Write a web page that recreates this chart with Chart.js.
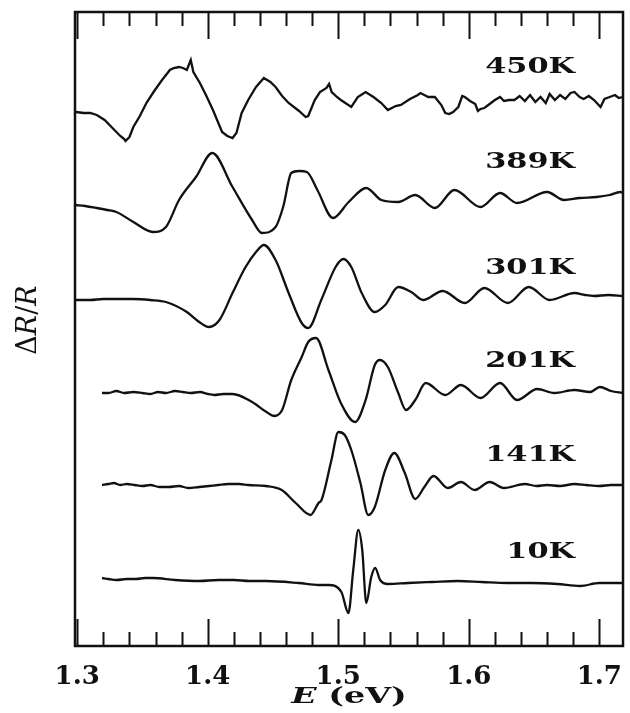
<!DOCTYPE html>
<html>
<head>
<meta charset="utf-8">
<script src="https://cdn.jsdelivr.net/npm/chart.js@4.4.0/dist/chart.umd.min.js"></script>
<style>
html,body{margin:0;padding:0;background:#fff}
</style>
</head>
<body>
<canvas id="spectra" width="630" height="713"></canvas>
<script>
// spectra, top to bottom
const temps = ["450K", "389K", "301K", "201K", "141K", "10K"];
// where the temperature labels sit (y in arbitrary units), right edge at labelE
const labelY = [579, 484, 378, 285, 191, 94];
const labelE = 1.6814;

// energy axis (eV)
const eMin = 1.2983, eMax = 1.7182;
const majorTicks = [1.3, 1.4, 1.5, 1.6, 1.7];
const minorTicks = [1.32, 1.34, 1.36, 1.38, 1.42, 1.44, 1.46, 1.48,
                    1.52, 1.54, 1.56, 1.58, 1.62, 1.64, 1.66, 1.68];

// [E (eV), dR/R + offset (arb. units)]
const k450 = [[1.299,534],[1.305,533],[1.310,533],[1.315,531],[1.321,526],[1.327,518],[1.333,510],[1.336,507],
  [1.337,505],[1.340,509],[1.343,519],[1.348,530],[1.353,543],[1.359,555],[1.365,566],[1.368,571],[1.371,576],
  [1.374,578],[1.378,579],[1.381,578],[1.384,576],[1.387,586],[1.389,574],[1.394,563],[1.399,550],[1.404,536],
  [1.411,514],[1.415,510],[1.419,508],[1.422,513],[1.426,533],[1.431,546],[1.437,559],[1.443,568],[1.448,564],
  [1.452,559],[1.457,550],[1.462,543],[1.470,535],[1.475,529],[1.477,530],[1.482,546],[1.486,554],[1.491,558],
  [1.493,562],[1.495,554],[1.499,549],[1.502,546],[1.510,539],[1.515,549],[1.521,554],[1.527,549],[1.533,543],
  [1.538,536],[1.544,540],[1.548,541],[1.555,547],[1.561,551],[1.563,553],[1.569,549],[1.574,549],[1.579,541],
  [1.582,533],[1.585,532],[1.588,534],[1.592,539],[1.595,550],[1.597,549],[1.601,545],[1.605,542],[1.607,535],
  [1.609,537],[1.612,538],[1.617,543],[1.620,546],[1.624,549],[1.627,545],[1.631,546],[1.635,546],[1.639,550],
  [1.643,545],[1.647,551],[1.651,544],[1.655,549],[1.659,543],[1.662,552],[1.666,546],[1.670,551],[1.674,547],
  [1.678,553],[1.681,554],[1.685,549],[1.688,547],[1.692,550],[1.696,546],[1.701,539],[1.704,547],[1.708,549],
  [1.712,551],[1.715,548],[1.718,549]];

const k389 = [[1.299,441],[1.306,440],[1.315,438],[1.323,436],[1.330,434],[1.343,424],[1.358,414],[1.368,419],
  [1.378,446],[1.391,469],[1.4035,493],[1.419,459],[1.434,426],[1.4415,413],[1.452,419],[1.458,440],[1.464,473],
  [1.470,475],[1.476,474],[1.484,456],[1.496,428],[1.508,444],[1.5215,458],[1.533,446],[1.546,444],[1.559,451],
  [1.574,438],[1.589,456],[1.609,439],[1.624,453],[1.637,443],[1.660,454],[1.673,446],[1.685,448],[1.698,449],
  [1.708,451],[1.716,454],[1.718,453]];

const k301 = [[1.299,346],[1.310,346],[1.320,347],[1.332,347],[1.343,347],[1.356,346],[1.368,344],[1.384,334],
  [1.3935,324],[1.401,319],[1.409,326],[1.419,353],[1.429,379],[1.437,394],[1.443,401],[1.452,386],[1.462,353],
  [1.472,323],[1.477,318],[1.487,346],[1.498,379],[1.504,387],[1.510,379],[1.518,353],[1.528,334],[1.536,341],
  [1.546,359],[1.556,354],[1.565,346],[1.580,355],[1.597,343],[1.612,358],[1.630,343],[1.646,359],[1.662,346],
  [1.681,353],[1.689,351],[1.696,350],[1.707,351],[1.718,350]];

const k201 = [[1.319,253],[1.324,253],[1.330,255],[1.336,253],[1.343,254],[1.350,253],[1.356,252],[1.362,254],
  [1.368,253],[1.375,255],[1.381,254],[1.387,253],[1.394,254],[1.400,252],[1.405,251],[1.412,252],[1.419,252],
  [1.434,244],[1.445,234],[1.451,230],[1.457,236],[1.464,266],[1.472,289],[1.477,304],[1.483,308],[1.4925,276],
  [1.502,243],[1.513,224],[1.521,246],[1.528,281],[1.532,286],[1.538,279],[1.546,253],[1.552,236],[1.559,246],
  [1.567,263],[1.582,251],[1.594,261],[1.609,248],[1.624,263],[1.637,246],[1.6525,257],[1.6655,253],[1.681,256],
  [1.693,254],[1.7005,259],[1.709,255],[1.718,253]];

const k141 = [[1.319,161],[1.324,162],[1.328,163],[1.333,161],[1.338,162],[1.344,161],[1.350,160],[1.356,161],
  [1.363,159],[1.370,159],[1.378,160],[1.385,158],[1.3935,159],[1.401,160],[1.408,161],[1.416,162],[1.424,162],
  [1.431,161],[1.4446,160],[1.4567,156],[1.4674,143],[1.4788,131],[1.4849,143],[1.4872,146],[1.4948,186],
  [1.5001,214],[1.505,211],[1.510,196],[1.517,163],[1.523,131],[1.528,139],[1.536,176],[1.543,193],[1.551,173],
  [1.559,147],[1.566,159],[1.573,170],[1.584,158],[1.594,164],[1.6045,156],[1.616,164],[1.627,158],[1.643,162],
  [1.652,160],[1.660,161],[1.670,160],[1.681,162],[1.690,161],[1.700,160],[1.709,161],[1.718,161]];

const k10 = [[1.319,68],[1.324,67],[1.330,66],[1.338,67],[1.345,67],[1.352,68],[1.358,68],[1.375,66],[1.3935,65],
  [1.408,66],[1.420,66],[1.432,65],[1.4446,65],[1.4697,63],[1.4849,61],[1.4925,61],[1.5024,54],[1.5078,33],
  [1.5115,76],[1.5154,116],[1.5184,96],[1.5215,43],[1.5253,69],[1.5283,78],[1.5321,66],[1.5382,62],[1.5535,63],
  [1.572,64],[1.5915,65],[1.610,64],[1.6297,63],[1.648,63],[1.6678,62],[1.6853,60],[1.700,63],[1.718,63]];

const curves = [k450, k389, k301, k201, k141, k10];
const ink = "#111";

const frame = {
  id: "frame",
  afterDatasetsDraw(chart) {
    const { ctx, chartArea: a, scales: { x } } = chart;
    ctx.save();
    ctx.strokeStyle = ink;
    ctx.lineWidth = 2.5;
    ctx.strokeRect(a.left, a.top, a.right - a.left, a.bottom - a.top);
    ctx.lineWidth = 2;
    ctx.beginPath();
    const tick = (v, len) => {
      const px = Math.round(x.getPixelForValue(v)) + 0.5;
      ctx.moveTo(px, a.bottom); ctx.lineTo(px, a.bottom - len);
      ctx.moveTo(px, a.top); ctx.lineTo(px, a.top + len);
    };
    majorTicks.forEach(v => tick(v, 27));
    minorTicks.forEach(v => tick(v, 14));
    ctx.stroke();
    ctx.restore();
  }
};

// draws runs of [text, style] stretched horizontally, centred on 0
function drawRuns(ctx, runs, size, stretch) {
  const fonts = runs.map(r => `${r[1]} ${size}px "DejaVu Serif"`);
  let w = 0;
  runs.forEach((r, i) => { ctx.font = fonts[i]; w += ctx.measureText(r[0]).width; });
  ctx.scale(stretch, 1);
  let cx = -w / 2;
  runs.forEach((r, i) => {
    ctx.font = fonts[i];
    ctx.fillText(r[0], cx, 0);
    cx += ctx.measureText(r[0]).width;
  });
}

const texts = {
  id: "texts",
  afterDatasetsDraw(chart) {
    const { ctx, chartArea: a, scales: { x, y } } = chart;
    ctx.save();
    ctx.fillStyle = ink;
    ctx.textBaseline = "middle";
    ctx.textAlign = "left";
    temps.forEach((t, i) => {
      ctx.save();
      ctx.font = 'bold 22px "DejaVu Serif"';
      const w = ctx.measureText(t).width * 1.38;
      ctx.translate(x.getPixelForValue(labelE) - w, y.getPixelForValue(labelY[i]));
      ctx.scale(1.38, 1);
      ctx.fillText(t, 0, 0);
      ctx.restore();
    });
    // x title
    ctx.save();
    ctx.translate((a.left + a.right) / 2, a.bottom + 51);
    drawRuns(ctx, [["E", "italic bold"], [" (eV)", "bold"]], 23, 1.45);
    ctx.restore();
    // y title
    ctx.save();
    ctx.translate(29, (a.top + a.bottom) / 2 - 9);
    ctx.rotate(-Math.PI / 2);
    drawRuns(ctx, [["Δ", "normal"], ["R", "italic"], ["/", "normal"], ["R", "italic"]], 27, 1.0);
    ctx.restore();
    ctx.restore();
  }
};

new Chart(document.getElementById("spectra"), {
  type: "line",
  data: {
    datasets: curves.map((c, i) => ({
      label: temps[i],
      data: c.map(p => ({ x: p[0], y: p[1] })),
      borderColor: ink,
      borderWidth: 2.3,
      pointRadius: 0,
      cubicInterpolationMode: i === 0 ? "default" : "monotone",
      tension: 0,
      fill: false
    }))
  },
  options: {
    responsive: false,
    animation: false,
    layout: { padding: { top: 12, right: 3, left: 0, bottom: 0 } },
    plugins: { legend: { display: false }, tooltip: { enabled: false } },
    scales: {
      x: {
        type: "linear",
        min: eMin, max: eMax,
        afterBuildTicks: s => { s.ticks = majorTicks.map(v => ({ value: v })); },
        afterFit: s => { s.height = 67; },
        grid: { display: false },
        border: { display: false },
        ticks: {
          padding: 8,
          maxRotation: 0,
          autoSkip: false,
          color: ink,
          font: { family: "DejaVu Serif", size: 26, weight: "bold" },
          callback: v => v.toFixed(1)
        }
      },
      y: {
        min: 0, max: 634,
        afterFit: s => { s.width = 75; },
        grid: { display: false },
        border: { display: false },
        ticks: { display: false }
      }
    }
  },
  plugins: [frame, texts]
});
</script>
</body>
</html>
